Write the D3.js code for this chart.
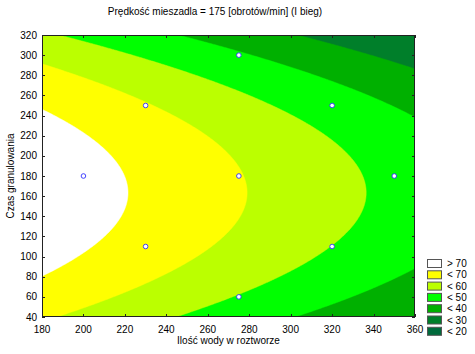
<!DOCTYPE html>
<html>
<head>
<meta charset="utf-8">
<script src="https://cdn.jsdelivr.net/npm/d3@7"></script>
<style>
  body { margin: 0; background: #fff; }
  svg text { font-family: "Liberation Sans", Arial, sans-serif; fill: #000; }
</style>
</head>
<body>
<div id="chart"></div>
<script>
// design points (water amount, granulation time)
const pointsX = [230, 230, 320, 320, 200, 350, 275, 275, 275];
const pointsY = [110, 250, 110, 250, 180, 180, 60, 300, 180];

// fitted response surface, coded units: b0, bX, bY, bXX, bYY, bXY
const coef = [60.4, -7.83, -2.45, 0, -5.15, 0];
const codeCenter = [275, 180];
const codeStep = [45, 70];

const levels = [20, 30, 40, 50, 60, 70];
const bandColors = ["#006a3c", "#007f2a", "#00b000", "#00ff00", "#bbff00", "#ffff00", "#ffffff"];
const legendLabels = ["> 70", "< 70", "< 60", "< 50", "< 40", "< 30", "< 20"];

const xTicks = [180, 200, 220, 240, 260, 280, 300, 320, 340, 360];
const yTicks = [40, 60, 80, 100, 120, 140, 160, 180, 200, 220, 240, 260, 280, 300, 320];

const titleText = "Prędkość mieszadla = 175 [obrotów/min] (I bieg)";
const xLabel = "Ilość wody w roztworze";
const yLabel = "Czas granulowania";

const width = 475, height = 354;
const plot = { left: 42, right: 415, top: 35, bottom: 317 };

const x = d3.scaleLinear().domain([180, 360]).range([plot.left, plot.right]);
const y = d3.scaleLinear().domain([40, 320]).range([plot.bottom, plot.top]);

function surface(X, Y) {
    var u = (X - codeCenter[0]) / codeStep[0];
    var v = (Y - codeCenter[1]) / codeStep[1];
    return coef[0] + coef[1] * u + coef[2] * v + coef[3] * u * u + coef[4] * v * v + coef[5] * u * v;
}

const svg = d3.select("#chart").append("svg")
    .attr("width", width)
    .attr("height", height);

svg.append("defs").append("clipPath").attr("id", "plotclip")
    .append("rect")
    .attr("x", plot.left).attr("y", plot.top)
    .attr("width", plot.right - plot.left).attr("height", plot.bottom - plot.top);

// grid for contouring
const nx = 240, ny = 200;
const dx = (x.domain()[1] - x.domain()[0]) / nx;
const dy = (y.domain()[1] - y.domain()[0]) / ny;
const grid = new Array(nx * ny);
for (let j = 0; j < ny; j++) {
    for (let i = 0; i < nx; i++) {
        grid[i + j * nx] = surface(x.domain()[0] + (i + 0.5) * dx, y.domain()[1] - (j + 0.5) * dy);
    }
}

const contours = d3.contours().size([nx, ny]).thresholds(levels)(grid);

const proj = d3.geoTransform({
    point: function (gx, gy) {
        this.stream.point(x(x.domain()[0] + gx * dx), y(y.domain()[1] - gy * dy));
    }
});
const path = d3.geoPath(proj);

const g = svg.append("g").attr("clip-path", "url(#plotclip)");
g.append("rect")
    .attr("x", plot.left).attr("y", plot.top)
    .attr("width", plot.right - plot.left).attr("height", plot.bottom - plot.top)
    .attr("fill", bandColors[0]);

g.selectAll("path.band")
    .data(contours)
    .enter().append("path")
    .attr("class", "band")
    .attr("d", path)
    .attr("fill", (d, i) => bandColors[i + 1])
    .attr("stroke", (d, i) => bandColors[i + 1])
    .attr("stroke-width", 0.5);

// design points
g.selectAll("circle.pt")
    .data(pointsX.map((px, i) => [px, pointsY[i]]))
    .enter().append("circle")
    .attr("class", "pt")
    .attr("cx", d => x(d[0]))
    .attr("cy", d => y(d[1]))
    .attr("r", 2.3)
    .attr("fill", "#fff")
    .attr("stroke", "#3030ff")
    .attr("stroke-width", 0.9);

// frame
svg.append("rect")
    .attr("x", plot.left + 0.5).attr("y", plot.top + 0.5)
    .attr("width", plot.right - plot.left - 1).attr("height", plot.bottom - plot.top - 1)
    .attr("fill", "none")
    .attr("stroke", "#222")
    .attr("stroke-width", 1);

// inward ticks on all four sides
const tickLen = 3;
const ticks = svg.append("g").attr("stroke", "#222").attr("stroke-width", 1);
xTicks.forEach(t => {
    var px = Math.round(x(t)) + 0.5;
    ticks.append("line").attr("x1", px).attr("x2", px).attr("y1", plot.bottom).attr("y2", plot.bottom - tickLen);
    ticks.append("line").attr("x1", px).attr("x2", px).attr("y1", plot.top).attr("y2", plot.top + tickLen);
});
yTicks.forEach(t => {
    var py = Math.round(y(t)) + 0.5;
    ticks.append("line").attr("x1", plot.left).attr("x2", plot.left + tickLen).attr("y1", py).attr("y2", py);
    ticks.append("line").attr("x1", plot.right).attr("x2", plot.right - tickLen).attr("y1", py).attr("y2", py);
});

svg.append("g").selectAll("text")
    .data(xTicks)
    .enter().append("text")
    .attr("x", d => x(d))
    .attr("y", plot.bottom + 16)
    .attr("text-anchor", "middle")
    .attr("font-size", 10)
    .text(d => d);

svg.append("g").selectAll("text")
    .data(yTicks)
    .enter().append("text")
    .attr("x", plot.left - 5)
    .attr("y", d => y(d) + 3.5)
    .attr("text-anchor", "end")
    .attr("font-size", 10)
    .text(d => d);

svg.append("text")
    .attr("x", 215)
    .attr("y", 15)
    .attr("text-anchor", "middle")
    .attr("font-size", 10)
    .text(titleText);

svg.append("text")
    .attr("x", (plot.left + plot.right) / 2)
    .attr("y", 344)
    .attr("text-anchor", "middle")
    .attr("font-size", 10)
    .text(xLabel);

svg.append("text")
    .attr("transform", "translate(14," + ((plot.top + plot.bottom) / 2) + ") rotate(-90)")
    .attr("text-anchor", "middle")
    .attr("font-size", 10)
    .text(yLabel);

// legend
const legend = svg.append("g").attr("transform", "translate(427,259)");
const legendColors = bandColors.slice().reverse();
legendLabels.forEach((lab, i) => {
    legend.append("rect")
        .attr("x", 0.5).attr("y", i * 11.3 + 0.5)
        .attr("width", 14).attr("height", 8)
        .attr("fill", legendColors[i])
        .attr("stroke", "#555")
        .attr("stroke-width", 1);
    legend.append("text")
        .attr("x", 20)
        .attr("y", i * 11.3 + 8)
        .attr("font-size", 10)
        .text(lab);
});
</script>
</body>
</html>
